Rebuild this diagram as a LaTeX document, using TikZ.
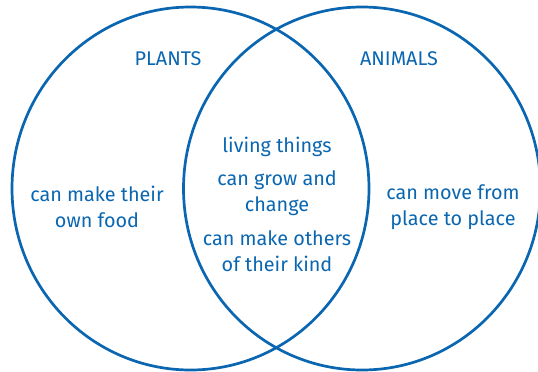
\documentclass[tikz,border=0pt]{standalone}
\usepackage{fontspec}
\setmainfont{Fira Sans}
\definecolor{vennblue}{HTML}{0A66B0}

\begin{document}
\begin{tikzpicture}[x=1pt, y=-1pt,
		venn/.style={draw=vennblue, line width=2.7pt},
		txt/.style={text=vennblue, font=\fontsize{19.8}{26.5}\selectfont, align=center, inner sep=0pt}]

		\useasboundingbox (0,0) rectangle (538,372);

		% the two sets
		\draw[venn] (190.5,188.5) ellipse [x radius=178.5, y radius=181.5];
		\draw[venn] (362,188.5) ellipse [x radius=178.5, y radius=181.5];

		% set names
		\node[txt, anchor=base] (plants) at (168,65) {PLANTS};
		\node[txt, anchor=base] (animals) at (399,65) {ANIMALS};

		% only plants
		\node[txt] (food) at (97,207) {can make their\\ own food};

		% both
		\node[txt, anchor=base] (living) at (277,152) {living things};
		\node[txt] (grow) at (277,193) {can grow and\\ change};
		\node[txt] (kind) at (277,251) {can make others\\ of their kind};

		% only animals
		\node[txt] (move) at (453,207) {can move from\\ place to place};

	\end{tikzpicture}
\end{document}
